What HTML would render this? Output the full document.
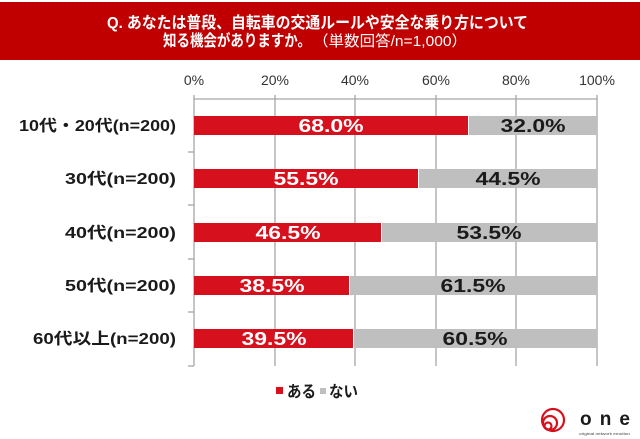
<!DOCTYPE html>
<html><head><meta charset="utf-8"><style>
html,body{margin:0;padding:0;background:#fff;}
svg{display:block;}
text{font-family:"Liberation Sans","Noto Sans CJK JP",sans-serif;}
</style></head><body>
<svg width="640" height="439" viewBox="0 0 640 439" xmlns="http://www.w3.org/2000/svg">
<rect x="0" y="0" width="640" height="439" fill="#fff"/>
<!-- header -->
<rect x="0" y="2" width="640" height="58" fill="#c00000"/>
<text x="107" y="28" fill="#fff" font-size="16" font-weight="bold" textLength="421" lengthAdjust="spacingAndGlyphs">Q. あなたは普段、自転車の交通ルールや安全な乗り方について</text>
<text x="163" y="46" fill="#fff" font-size="16" font-weight="bold" textLength="148" lengthAdjust="spacingAndGlyphs">知る機会がありますか。</text>
<text x="313" y="46" fill="#fff" font-size="15" textLength="154" lengthAdjust="spacingAndGlyphs">（単数回答/n=1,000）</text>

<!-- tick labels -->
<g font-size="14" fill="#333" text-anchor="middle">
<text x="194" y="85">0%</text>
<text x="275" y="85">20%</text>
<text x="355" y="85">40%</text>
<text x="436" y="85">60%</text>
<text x="516" y="85">80%</text>
<text x="597" y="85">100%</text>
</g>

<!-- grid -->
<g stroke="#a6a6a6" stroke-width="1.3">
<line x1="194" y1="99" x2="597" y2="99"/>
<line x1="194" y1="95" x2="194" y2="366"/>
<line x1="275" y1="95" x2="275" y2="366"/>
<line x1="355" y1="95" x2="355" y2="366"/>
<line x1="436" y1="95" x2="436" y2="366"/>
<line x1="516" y1="95" x2="516" y2="366"/>
<line x1="597" y1="95" x2="597" y2="366"/>
<line x1="188" y1="152" x2="194" y2="152"/>
<line x1="188" y1="205" x2="194" y2="205"/>
<line x1="188" y1="259" x2="194" y2="259"/>
<line x1="188" y1="312" x2="194" y2="312"/>
<line x1="188" y1="366" x2="194" y2="366"/>
</g>

<!-- bars -->
<g>
<rect x="194" y="116" width="274" height="19" fill="#d7101e"/>
<rect x="469" y="116" width="128" height="19" fill="#bfbfbf"/>
<rect x="194" y="169" width="224" height="19" fill="#d7101e"/>
<rect x="419" y="169" width="178" height="19" fill="#bfbfbf"/>
<rect x="194" y="223" width="187" height="19" fill="#d7101e"/>
<rect x="382" y="223" width="215" height="19" fill="#bfbfbf"/>
<rect x="194" y="276" width="155" height="19" fill="#d7101e"/>
<rect x="350" y="276" width="247" height="19" fill="#bfbfbf"/>
<rect x="194" y="329" width="159" height="19" fill="#d7101e"/>
<rect x="354" y="329" width="243" height="19" fill="#bfbfbf"/>
</g>

<!-- bar values -->
<g font-size="18" font-weight="bold" text-anchor="middle">
<text x="331" y="132" fill="#fff" textLength="65" lengthAdjust="spacingAndGlyphs">68.0%</text>
<text x="533" y="132" fill="#1a1a1a" textLength="65" lengthAdjust="spacingAndGlyphs">32.0%</text>
<text x="306" y="185" fill="#fff" textLength="65" lengthAdjust="spacingAndGlyphs">55.5%</text>
<text x="508" y="185" fill="#1a1a1a" textLength="65" lengthAdjust="spacingAndGlyphs">44.5%</text>
<text x="288" y="239" fill="#fff" textLength="65" lengthAdjust="spacingAndGlyphs">46.5%</text>
<text x="489" y="239" fill="#1a1a1a" textLength="65" lengthAdjust="spacingAndGlyphs">53.5%</text>
<text x="272" y="292" fill="#fff" textLength="65" lengthAdjust="spacingAndGlyphs">38.5%</text>
<text x="473" y="292" fill="#1a1a1a" textLength="65" lengthAdjust="spacingAndGlyphs">61.5%</text>
<text x="274" y="345" fill="#fff" textLength="65" lengthAdjust="spacingAndGlyphs">39.5%</text>
<text x="475" y="345" fill="#1a1a1a" textLength="65" lengthAdjust="spacingAndGlyphs">60.5%</text>
</g>

<!-- category labels -->
<g font-size="16" font-weight="bold" fill="#1a1a1a">
<text x="19" y="131" textLength="157" lengthAdjust="spacingAndGlyphs">10代・20代(n=200)</text>
<text x="65" y="184" textLength="111" lengthAdjust="spacingAndGlyphs">30代(n=200)</text>
<text x="65" y="238" textLength="111" lengthAdjust="spacingAndGlyphs">40代(n=200)</text>
<text x="65" y="291" textLength="111" lengthAdjust="spacingAndGlyphs">50代(n=200)</text>
<text x="33" y="344" textLength="143" lengthAdjust="spacingAndGlyphs">60代以上(n=200)</text>
</g>

<!-- legend -->
<rect x="276" y="387" width="7" height="7" fill="#d7101e"/>
<text x="287" y="397" font-size="16" font-weight="bold" fill="#1a1a1a" textLength="29" lengthAdjust="spacingAndGlyphs">ある</text>
<rect x="320" y="388" width="6" height="6" fill="#bfbfbf"/>
<text x="329" y="397" font-size="16" font-weight="bold" fill="#1a1a1a" textLength="29" lengthAdjust="spacingAndGlyphs">ない</text>

<!-- logo -->
<g fill="none" stroke="#d7101e" stroke-width="2.2">
<circle cx="553" cy="420" r="11"/>
<circle cx="550" cy="423" r="7"/>
<circle cx="548" cy="426" r="3.5"/>
</g>
<text x="580" y="425" font-size="19" font-weight="bold" fill="#1a1a1a" textLength="50" lengthAdjust="spacing">one</text>
<text x="579" y="435" font-size="3.5" fill="#444" textLength="51" lengthAdjust="spacingAndGlyphs">original network emotion</text>
</svg>
</body></html>
